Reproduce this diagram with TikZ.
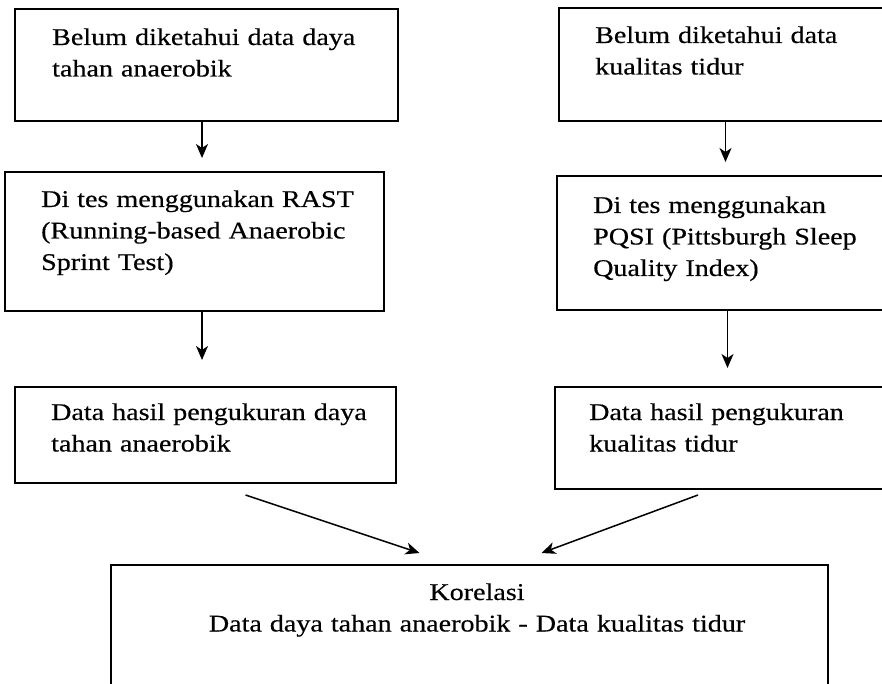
\documentclass[tikz,border=0pt]{standalone}
\usepackage{fontspec}
\setmainfont{Liberation Serif}[FakeStretch=1.17, FakeBold=0.4]
\usetikzlibrary{arrows.meta}

\tikzset{
  box/.style={draw, line width=1.8pt, inner sep=0pt, outer sep=0pt, anchor=north west},
  txt/.style={inner sep=0pt, anchor=base west, text width=330pt, align=left,
              font=\fontsize{24}{31.5}\selectfont},
  arr/.style={-{Stealth[length=14pt,width=12pt,inset=4pt]}, line width=1.5pt}
}

\begin{document}
\begin{tikzpicture}[x=1pt, y=-1pt]
      \clip (0, 0) rectangle (882, 684);
      % left column
      \node[box, minimum width=383pt, minimum height=112pt] (belumA) at (15, 9) {};
      \node[txt] (belumAtxt) at (52, 45) {Belum diketahui data daya\\tahan anaerobik};
      \node[box, minimum width=379pt, minimum height=139pt] (rast) at (5, 172) {};
      \node[txt] (rasttxt) at (41, 207) {Di tes menggunakan RAST\\(Running-based Anaerobic\\Sprint Test)};
      \node[box, minimum width=381pt, minimum height=96pt] (hasilA) at (15, 387) {};
      \node[txt] (hasilAtxt) at (51, 420) {Data hasil pengukuran daya\\tahan anaerobik};
      % right column
      \node[box, minimum width=340pt, minimum height=113pt] (belumB) at (559, 8) {};
      \node[txt] (belumBtxt) at (595, 43) {Belum diketahui data\\kualitas tidur};
      \node[box, minimum width=340pt, minimum height=134pt] (pqsi) at (557, 176) {};
      \node[txt] (pqsitxt) at (593, 213) {Di tes menggunakan\\PQSI (Pittsburgh Sleep\\Quality Index)};
      \node[box, minimum width=340pt, minimum height=102pt] (hasilB) at (555, 387) {};
      \node[txt] (hasilBtxt) at (589, 420) {Data hasil pengukuran\\kualitas tidur};
      % bottom
      \node[box, minimum width=717pt, minimum height=140pt] (korelasi) at (111, 565) {};
      \node[txt, anchor=base, text width=700pt, align=center] (korelasitxt) at (477, 600)
            {Korelasi\\Data daya tahan anaerobik - Data kualitas tidur};

      \draw[arr, shorten >=14pt] ([xshift=-4.5pt]belumA.south) -- ([xshift=-4.5pt]belumA.south |- rast.north);
      \draw[arr, shorten >=27pt] ([xshift=-4.5pt]belumA.south |- rast.south) -- ([xshift=-4.5pt]belumA.south |- hasilA.north);
      \draw[arr, shorten >=14pt] ([xshift=-3.5pt]belumB.south) -- ([xshift=-3.5pt]belumB.south |- pqsi.north);
      \draw[arr, shorten >=19pt] ([xshift=-1.5pt]belumB.south |- pqsi.south) -- ([xshift=-1.5pt]belumB.south |- hasilB.north);
      \draw[arr] ([shift={(40, 12)}]hasilA.south) -- ([shift={(-50, -12)}]korelasi.north);
      \draw[arr] ([shift={(-27, 6)}]hasilB.south) -- ([shift={(72, -12)}]korelasi.north);
\end{tikzpicture}
\end{document}
